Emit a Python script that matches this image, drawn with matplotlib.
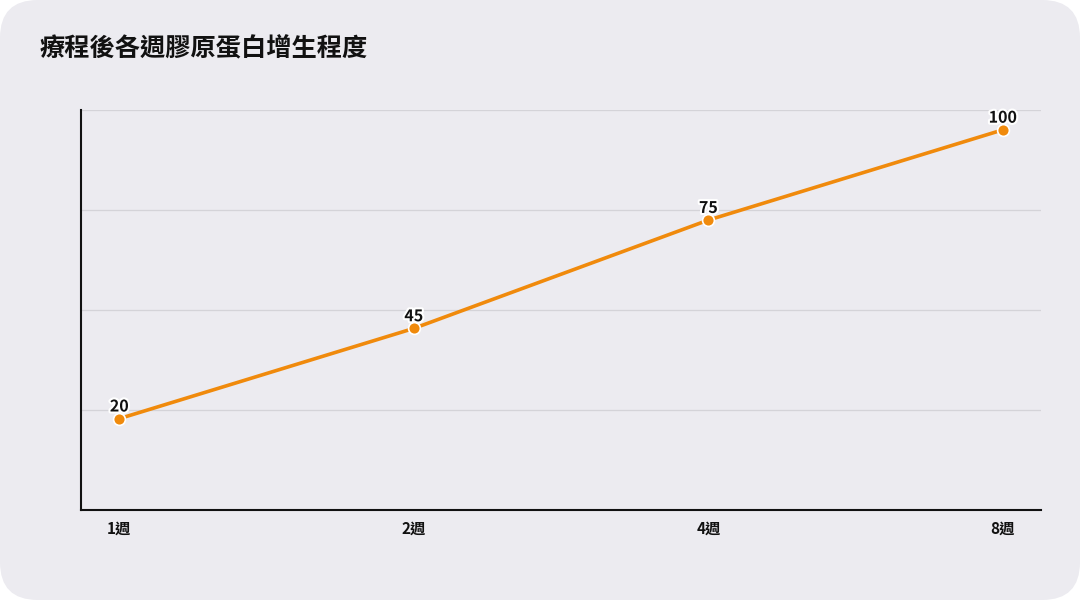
import numpy as np
import matplotlib.pyplot as plt
from matplotlib.patches import FancyBboxPatch
import matplotlib.patheffects as pe

plt.rcParams['font.family'] = ['Noto Sans CJK TC', 'DejaVu Sans']

weeks = ['1週', '2週', '4週', '8週']
values = [20, 45, 75, 100]
title = '療程後各週膠原蛋白增生程度'

bg = '#ECEBF0'
orange = '#F08A0C'

fig = plt.figure(figsize=(10.8, 6), dpi=100)
fig.patch.set_facecolor('white')
card = FancyBboxPatch((0.0, 0.0), 1.0, 1.0, boxstyle='round,pad=0,rounding_size=0.035',
                      transform=fig.transFigure, facecolor=bg, edgecolor='none',
                      mutation_aspect=1.8, zorder=-10)
fig.patches.append(card)

ax = fig.add_axes([0.075, 0.15, 0.889, 0.6667])
ax.set_facecolor(bg)

x = np.arange(len(weeks))
ax.plot(x, values, color=orange, lw=2.6, marker='o', ms=8.5,
        markerfacecolor=orange, markeredgecolor='white', markeredgewidth=1.2, zorder=3)

for xi, v in zip(x, values):
    ax.annotate(str(v), (xi, v), xytext=(0, 3), textcoords='offset points',
                ha='center', va='bottom', fontsize=11.5, fontweight='bold', color='#111111',
                path_effects=[pe.withStroke(linewidth=3, foreground='white')], zorder=4)

ax.set_xlim(-0.13, 3.13)
ymin, ymax = -5.3, 105.5
ax.set_ylim(ymin, ymax)
ax.set_yticks(np.linspace(ymin, ymax, 5)[1:])
ax.set_yticklabels([])
ax.grid(axis='y', color='#D4D3D8', lw=0.9)
ax.set_axisbelow(True)
ax.tick_params(axis='y', length=0)
ax.tick_params(axis='x', length=0, pad=8)

ax.set_xticks(x)
ax.set_xticklabels(weeks, fontsize=11, fontweight='bold', color='#111111')

for s in ['top', 'right']:
    ax.spines[s].set_visible(False)
for s in ['left', 'bottom']:
    ax.spines[s].set_color('#111111')
    ax.spines[s].set_linewidth(1.5)

fig.text(0.037, 0.918, title, fontsize=18.2, fontweight='bold', color='#111111',
         ha='left', va='center')

fig.savefig('out.png', dpi=100, facecolor=fig.get_facecolor())
